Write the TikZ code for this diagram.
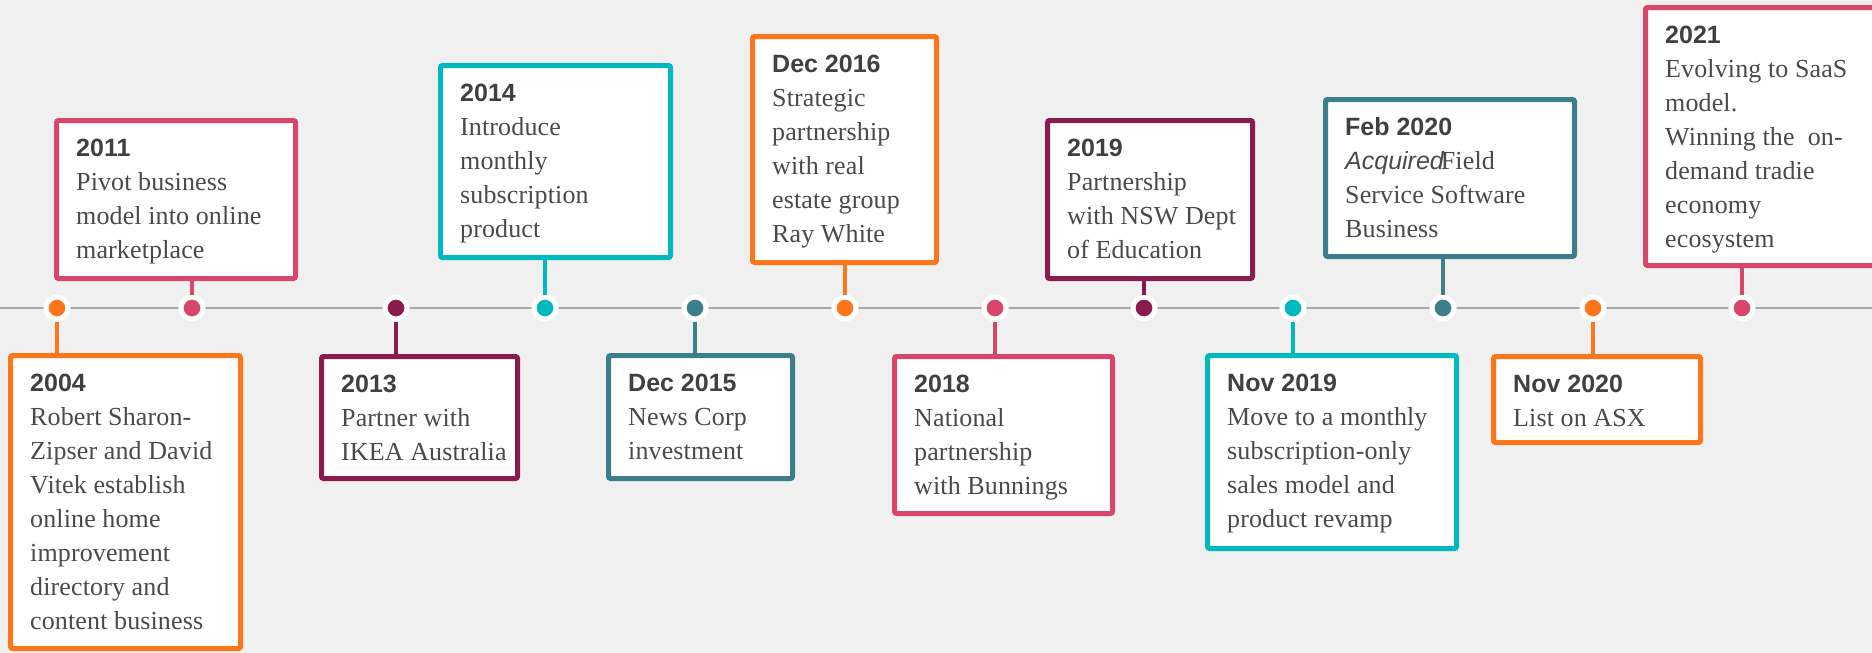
\documentclass[tikz,border=0pt]{standalone}
\usepackage{fontspec}
\setmainfont{Liberation Serif}[LetterSpace=0.5]
\newfontfamily\titlefam{Liberation Sans}
\newcommand\ttl[1]{{\titlefam\bfseries\fontsize{25pt}{34pt}\selectfont #1}}
\newcommand\acq[1]{{\titlefam\itshape\fontsize{25pt}{34pt}\selectfont #1}}
\definecolor{cOrange}{HTML}{FF761A}
\definecolor{cPink}{HTML}{D9466B}
\definecolor{cMaroon}{HTML}{8A1B4E}
\definecolor{cCyan}{HTML}{00B9BE}
\definecolor{cTeal}{HTML}{3D7E8D}
\definecolor{cBg}{HTML}{F0F0F0}
\definecolor{cLine}{HTML}{A9A9A9}
\definecolor{cText}{HTML}{404040}
\definecolor{cBody}{HTML}{4A4A4A}
\tikzset{
  evbox/.style={draw=#1, line width=5pt, fill=white, rounded corners=2pt, inner sep=0pt, rectangle},
  evtext/.style={anchor=north west, inner sep=0pt, align=left, text=cBody,
    font=\fontsize{26pt}{34pt}\selectfont},
  tdot/.style={circle, draw=white, fill=#1, line width=5pt, minimum size=22pt, inner sep=0pt},
  stemline/.style={draw=#1, line width=4pt},
  timeline/.style={draw=cLine, line width=2pt}
}
% box: name, left, top, right, bottom, colour
\newcommand\evbox[6]{%
  \node[evbox=#6, minimum width={#4-#2-5}, minimum height={#5-#3-5}] (#1) at ({(#2+#4)/2},{(#3+#5)/2}) {};}
\newcommand\ttlc[1]{\textcolor{cText}{\ttl{#1}}}
\begin{document}
\begin{tikzpicture}[x=1pt,y=-1pt]
\useasboundingbox (0,0) rectangle (1872,653);
\fill[cBg] (0,0) rectangle (1872,653);
\clip (0,0) rectangle (1872,653);
\coordinate (tl0) at (0,308);
\coordinate (tl1) at (1872,308);
\draw[timeline] (tl0) -- (tl1);

% boxes
\evbox{b1}{8}{353}{243}{651}{cOrange}
\evbox{b2}{54}{118}{298}{281}{cPink}
\evbox{b3}{319}{354}{520}{481}{cMaroon}
\evbox{b4}{438}{63}{673}{260}{cCyan}
\evbox{b5}{606}{353}{795}{481}{cTeal}
\evbox{b6}{750}{34}{939}{265}{cOrange}
\evbox{b7}{892}{354}{1115}{516}{cPink}
\evbox{b8}{1045}{118}{1255}{281}{cMaroon}
\evbox{b9}{1205}{353}{1459}{551}{cCyan}
\evbox{b10}{1323}{97}{1577}{259}{cTeal}
\evbox{b11}{1491}{354}{1703}{445}{cOrange}
\evbox{b12}{1643}{5}{1910}{268}{cPink}

% texts
\node[evtext] (t1) at (30,371) {\rule{0pt}{20pt}\ttlc{2004}\\Robert Sharon-\\Zipser and David\\Vitek establish\\online home\\improvement\\directory and\\content business};
\node[evtext] (t2) at (76,136) {\rule{0pt}{20pt}\ttlc{2011}\\Pivot business\\model into online\\marketplace};
\node[evtext] (t3) at (341,372) {\rule{0pt}{20pt}\ttlc{2013}\\Partner with\\IKEA Australia};
\node[evtext] (t4) at (460,81) {\rule{0pt}{20pt}\ttlc{2014}\\Introduce\\monthly\\subscription\\product};
\node[evtext] (t5) at (628,371) {\rule{0pt}{20pt}\ttlc{Dec 2015}\\News Corp\\investment};
\node[evtext] (t6) at (772,52) {\rule{0pt}{20pt}\ttlc{Dec 2016}\\Strategic\\partnership\\with real\\estate group\\Ray White};
\node[evtext] (t7) at (914,372) {\rule{0pt}{20pt}\ttlc{2018}\\National\\partnership\\with Bunnings};
\node[evtext] (t8) at (1067,136) {\rule{0pt}{20pt}\ttlc{2019}\\Partnership\\with NSW Dept\\of Education};
\node[evtext] (t9) at (1227,371) {\rule{0pt}{20pt}\ttlc{Nov 2019}\\Move to a monthly\\subscription-only\\sales model and\\product revamp};
\node[evtext] (t10) at (1345,115) {\rule{0pt}{20pt}\ttlc{Feb 2020}\\\acq{Acquired}\hspace{-3pt}Field\\Service Software\\Business};
\node[evtext] (t11) at (1513,372) {\rule{0pt}{20pt}\ttlc{Nov 2020}\\List on ASX};
\node[evtext] (t12) at (1665,23) {\rule{0pt}{20pt}\ttlc{2021}\\Evolving to SaaS\\model.\\Winning the\ \ on-\\demand tradie\\economy\\ecosystem};

% stems
\node[tdot=cOrange] (d1) at (57,308) {};
\node[tdot=cPink] (d2) at (192,308) {};
\node[tdot=cMaroon] (d3) at (396,308) {};
\node[tdot=cCyan] (d4) at (545,308) {};
\node[tdot=cTeal] (d5) at (695,308) {};
\node[tdot=cOrange] (d6) at (845,308) {};
\node[tdot=cPink] (d7) at (995,308) {};
\node[tdot=cMaroon] (d8) at (1144,308) {};
\node[tdot=cCyan] (d9) at (1293,308) {};
\node[tdot=cTeal] (d10) at (1443,308) {};
\node[tdot=cOrange] (d11) at (1593,308) {};
\node[tdot=cPink] (d12) at (1742,308) {};

\draw[stemline=cOrange] (d1.south) -- (d1.south |- b1.north);
\draw[stemline=cPink] (d2.north) -- (d2.north |- b2.south);
\draw[stemline=cMaroon] (d3.south) -- (d3.south |- b3.north);
\draw[stemline=cCyan] (d4.north) -- (d4.north |- b4.south);
\draw[stemline=cTeal] (d5.south) -- (d5.south |- b5.north);
\draw[stemline=cOrange] (d6.north) -- (d6.north |- b6.south);
\draw[stemline=cPink] (d7.south) -- (d7.south |- b7.north);
\draw[stemline=cMaroon] (d8.north) -- (d8.north |- b8.south);
\draw[stemline=cCyan] (d9.south) -- (d9.south |- b9.north);
\draw[stemline=cTeal] (d10.north) -- (d10.north |- b10.south);
\draw[stemline=cOrange] (d11.south) -- (d11.south |- b11.north);
\draw[stemline=cPink] (d12.north) -- (d12.north |- b12.south);
\end{tikzpicture}
\end{document}
